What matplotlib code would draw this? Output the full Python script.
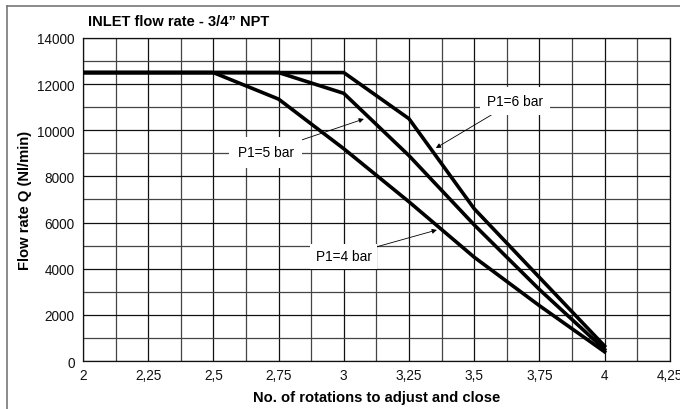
import numpy as np
import matplotlib.pyplot as plt
from matplotlib.lines import Line2D
from matplotlib.ticker import MultipleLocator

plt.rcParams['font.family'] = ['Liberation Sans', 'DejaVu Sans']

# rotations vs flow rate (Nl/min)
rot_6bar = [2.0, 3.0, 3.25, 3.5, 4.0]
flow_6bar = [12500, 12500, 10500, 6600, 650]

rot_5bar = [2.0, 2.75, 3.0, 3.25, 3.5, 3.75, 4.0]
flow_5bar = [12500, 12500, 11600, 8900, 5900, 3100, 500]

rot_4bar = [2.0, 2.5, 2.75, 3.0, 3.25, 3.5, 3.75, 4.0]
flow_4bar = [12500, 12500, 11350, 9200, 6900, 4500, 2400, 400]

x_ticks = [2, 2.25, 2.5, 2.75, 3, 3.25, 3.5, 3.75, 4, 4.25]
x_labels = ['2', '2,25', '2,5', '2,75', '3', '3,25', '3,5', '3,75', '4', '4,25']
y_ticks = [0, 2000, 4000, 6000, 8000, 10000, 12000, 14000]

fig = plt.figure(figsize=(6.8, 4.1), dpi=100)
ax = fig.add_axes([0.122, 0.117, 0.863, 0.788])

ax.set_xlim(2, 4.25)
ax.set_ylim(0, 14000)
ax.set_xticks(x_ticks)
ax.set_xticklabels(x_labels)
ax.set_yticks(y_ticks)
ax.xaxis.set_minor_locator(MultipleLocator(0.125))
ax.yaxis.set_minor_locator(MultipleLocator(1000))
ax.tick_params(which='both', length=0, labelsize=9.8, colors='#111111')
ax.tick_params(axis='x', pad=5)
ax.tick_params(axis='y', pad=6)
ax.grid(which='major', color='#111111', linewidth=0.9)
ax.grid(which='minor', color='#444444', linewidth=0.9)
ax.set_axisbelow(True)
for s in ax.spines.values():
    s.set_color('#111111')
    s.set_linewidth(0.9)

for xs, ys in [(rot_6bar, flow_6bar), (rot_5bar, flow_5bar), (rot_4bar, flow_4bar)]:
    ax.plot(xs, ys, color='black', linewidth=2.6, solid_joinstyle='miter', zorder=3)

arrow = dict(arrowstyle='-|>', color='black', linewidth=0.6, mutation_scale=7, shrinkA=0, shrinkB=0)

ax.annotate('P1=6 bar', xy=(3.353, 9230), xytext=(3.656, 11270), fontsize=9.9,
            ha='center', va='center', bbox=dict(facecolor='white', edgecolor='none', pad=5),
            arrowprops=arrow, zorder=5)
ax.annotate('P1=5 bar', xy=(3.077, 10490), xytext=(2.70, 9050), fontsize=9.9,
            ha='center', va='center', bbox=dict(facecolor='white', edgecolor='none', pad=6),
            arrowprops=arrow, zorder=5)
ax.annotate('P1=4 bar', xy=(3.357, 5680), xytext=(3.0, 4550), fontsize=9.9,
            ha='center', va='center', bbox=dict(facecolor='white', edgecolor='none', pad=4),
            arrowprops=arrow, zorder=5)

ax.set_xlabel('No. of rotations to adjust and close', fontsize=10.6, fontweight='bold', labelpad=6)
ax.set_ylabel('Flow rate Q (Nl/min)', fontsize=10.6, fontweight='bold', labelpad=4)

fig.text(0.129, 0.946, 'INLET flow rate - 3/4\u201d NPT', fontsize=10.5, fontweight='bold',
         ha='left', va='center')

# outer frame (left and top edges only)
fig.add_artist(Line2D([7 / 680, 7 / 680], [0, 1 - 7 / 410], transform=fig.transFigure,
                      color='#777777', linewidth=1.2))
fig.add_artist(Line2D([7 / 680, 1], [1 - 7 / 410, 1 - 7 / 410], transform=fig.transFigure,
                      color='#777777', linewidth=1.2))

fig.savefig('out.png', dpi=100)
